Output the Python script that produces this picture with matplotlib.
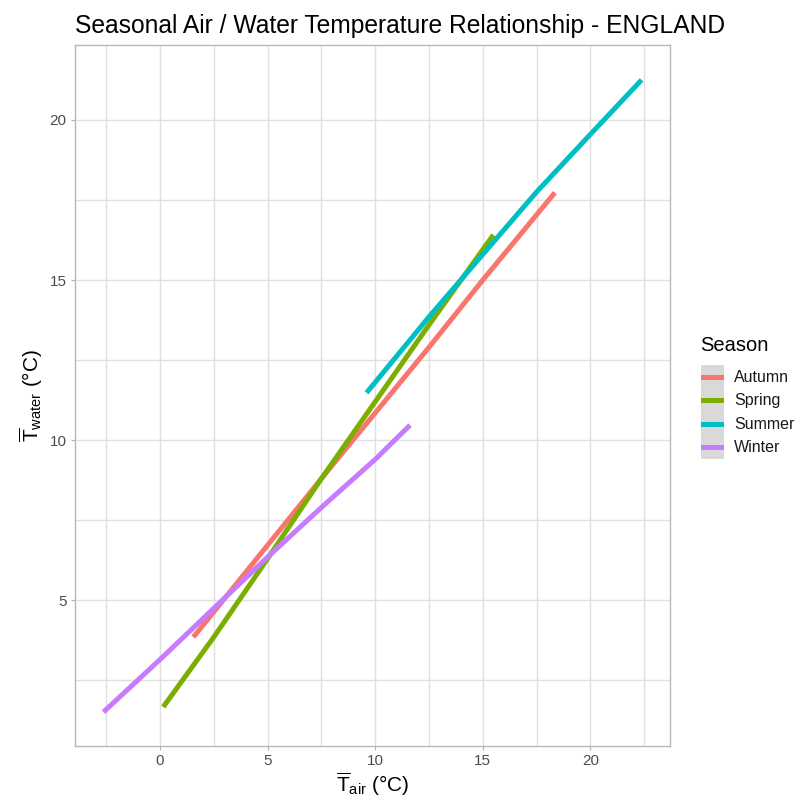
import numpy as np
import matplotlib.pyplot as plt
from matplotlib.lines import Line2D

plt.rcParams['font.family'] = ['Liberation Sans', 'DejaVu Sans']
plt.rcParams['mathtext.fontset'] = 'custom'
plt.rcParams['mathtext.rm'] = 'Liberation Sans'
plt.rcParams['mathtext.it'] = 'Liberation Sans'

# seasonal mean air vs water temperature
seasons = ['Autumn', 'Spring', 'Summer', 'Winter']
colors = ['#F8766D', '#7CAE00', '#00BFC4', '#C77CFF']

autumn_air = [1.55, 5.0, 7.5, 10.0, 12.5, 15.0, 18.35]
autumn_water = [3.85, 6.72, 8.8, 10.85, 12.9, 15.0, 17.73]

spring_air = [0.15, 2.5, 5.0, 7.5, 10.0, 12.5, 15.0, 15.49]
spring_water = [1.67, 3.85, 6.3, 8.8, 11.2, 13.6, 15.95, 16.41]

summer_air = [9.6, 12.5, 15.0, 17.5, 20.0, 22.38]
summer_water = [11.48, 13.85, 15.8, 17.75, 19.55, 21.25]

winter_air = [-2.63, 0.0, 2.5, 5.0, 7.5, 10.0, 11.62]
winter_water = [1.51, 3.15, 4.75, 6.35, 7.9, 9.4, 10.47]

series = [(autumn_air, autumn_water), (spring_air, spring_water),
          (summer_air, summer_water), (winter_air, winter_water)]

fig = plt.figure(figsize=(8.03, 8.05), dpi=100)
ax = fig.add_axes([75 / 803, 1 - 746 / 805, 595 / 803, 701 / 805])

for (x, y), c in zip(series, colors):
    ax.plot(x, y, color=c, lw=3.6, solid_capstyle='butt', zorder=3)

ax.set_xlim(-3.95, 23.7)
ax.set_ylim(0.45, 22.34)
ax.set_xticks([0, 5, 10, 15, 20])
ax.set_xticks(np.arange(-2.5, 23, 5), minor=True)
ax.set_yticks([5, 10, 15, 20])
ax.set_yticks([2.5, 7.5, 12.5, 17.5], minor=True)
ax.grid(which='major', color='#E0E0E0', lw=1.0, zorder=0)
ax.grid(which='minor', color='#E0E0E0', lw=1.0, zorder=0)
ax.tick_params(which='major', length=3, color='#B0B0B0', labelcolor='#4D4D4D',
               labelsize=11, pad=3)
ax.tick_params(which='minor', length=0)
for s in ax.spines.values():
    s.set_color('#B8B8B8')
    s.set_linewidth(1.0)

ax.set_xlabel(r'$\overline{\mathrm{T}}_{\mathrm{air}}$ (°C)', fontsize=15, labelpad=2)
ax.set_ylabel(r'$\overline{\mathrm{T}}_{\mathrm{water}}$ (°C)', fontsize=15, labelpad=3)
ax.set_title('Seasonal Air / Water Temperature Relationship - ENGLAND',
             fontsize=17.7, loc='left', pad=9)

# legend: grey key column like ggplot
fig.text(700 / 803, 1 - 345 / 805, 'Season', fontsize=14.5, va='center', ha='left')
kax = fig.add_axes([701 / 803, 1 - 459 / 805, 23 / 803, 94 / 805])
kax.set_facecolor('#D9D9D9')
kax.set_xlim(0, 1)
kax.set_ylim(0, 4)
kax.set_xticks([])
kax.set_yticks([])
for s in kax.spines.values():
    s.set_visible(False)
for i, (name, c) in enumerate(zip(seasons, colors)):
    yy = 3.5 - i
    kax.add_line(Line2D([0.1, 0.9], [yy, yy], color=c, lw=3.6))
    fig.text(734 / 803, 1 - (377 + i * 23.5) / 805, name, fontsize=11.5,
             va='center', ha='left', color='#1A1A1A')

fig.savefig('out.png', dpi=100)
